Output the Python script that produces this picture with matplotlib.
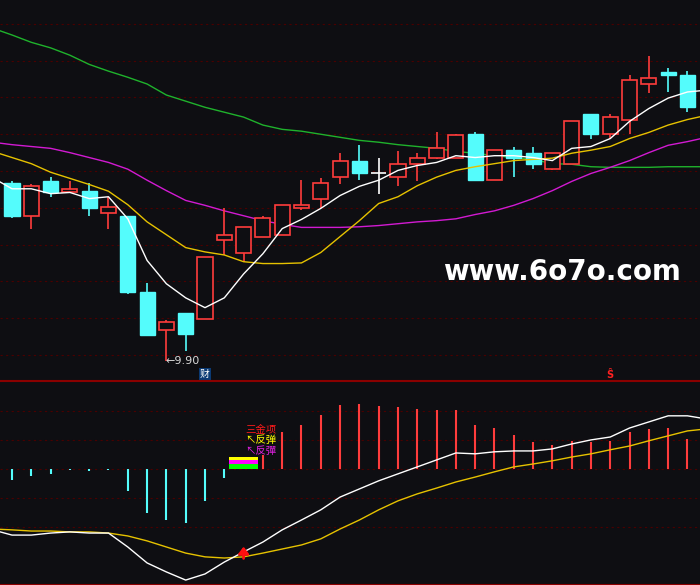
import matplotlib.pyplot as plt
from matplotlib.patches import Rectangle
import numpy as np

plt.rcParams['font.family'] = ['Noto Sans CJK SC', 'DejaVu Sans']

# daily candles (oldest -> newest)
opens = [12.81, 12.26, 12.83, 12.65, 12.68, 12.31, 12.26, 11.03, 10.41, 10.69,
         10.59, 11.88, 11.67, 11.93, 11.96, 12.40, 12.55, 12.91, 13.17, 12.96,
         12.91, 13.12, 13.21, 13.21, 13.61, 12.86, 13.34, 13.30, 13.04, 13.11,
         13.93, 13.61, 13.83, 14.42, 14.61, 14.56]
highs = [12.83, 12.78, 12.90, 12.83, 12.81, 12.58, 12.26, 11.18, 10.57, 10.69,
         11.59, 12.39, 12.09, 12.26, 12.44, 12.85, 12.88, 13.29, 13.42, 13.21,
         13.32, 13.29, 13.63, 13.61, 13.63, 13.34, 13.39, 13.39, 13.30, 13.81,
         13.93, 13.93, 14.56, 14.87, 14.68, 14.63]
lows = [12.24, 12.06, 12.57, 12.65, 12.26, 12.06, 11.00, 10.33, 9.90, 10.06,
        10.59, 11.63, 11.52, 11.93, 11.96, 12.37, 12.39, 12.78, 12.86, 12.62,
        12.75, 12.83, 13.19, 13.21, 12.85, 12.86, 12.90, 13.03, 13.01, 13.11,
        13.52, 13.52, 13.61, 14.27, 14.29, 13.96]
closes = [12.27, 12.76, 12.65, 12.70, 12.40, 12.42, 11.03, 10.33, 10.54, 10.34,
          11.59, 11.95, 12.09, 12.24, 12.44, 12.45, 12.81, 13.17, 12.96, 12.96,
          13.12, 13.22, 13.37, 13.58, 12.86, 13.34, 13.22, 13.11, 13.30, 13.81,
          13.61, 13.88, 14.48, 14.51, 14.56, 14.04]

# moving averages, one value before and one after the visible candles
ma5 = [12.89, 12.71, 12.71, 12.63, 12.65, 12.55, 12.58, 12.22, 11.54, 11.16, 10.93,
       10.77, 10.93, 11.32, 11.65, 12.06, 12.21, 12.39, 12.60, 12.75, 12.85,
       13.01, 13.09, 13.14, 13.25, 13.22, 13.25, 13.25, 13.22, 13.17, 13.37,
       13.40, 13.53, 13.81, 14.02, 14.19, 14.29, 14.32]
ma10 = [13.32, 13.22, 13.12, 12.98, 12.88, 12.78, 12.67, 12.45, 12.17, 11.96, 11.75,
        11.68, 11.63, 11.52, 11.49, 11.49, 11.50, 11.67, 11.93, 12.19, 12.47,
        12.58, 12.76, 12.90, 13.01, 13.07, 13.12, 13.17, 13.19, 13.21, 13.29,
        13.34, 13.40, 13.53, 13.63, 13.75, 13.84, 13.91]
ma30 = [13.47, 13.43, 13.40, 13.37, 13.30, 13.22, 13.14, 13.03, 12.85, 12.68, 12.52,
        12.44, 12.35, 12.27, 12.19, 12.13, 12.08, 12.08, 12.08, 12.09, 12.11,
        12.14, 12.17, 12.19, 12.22, 12.29, 12.35, 12.44, 12.55, 12.68, 12.83,
        12.96, 13.06, 13.17, 13.30, 13.42, 13.48, 13.55]
ma60 = [15.33, 15.22, 15.10, 15.01, 14.89, 14.74, 14.63, 14.53, 14.42, 14.24, 14.14,
        14.04, 13.96, 13.88, 13.75, 13.68, 13.65, 13.60, 13.55, 13.50, 13.47,
        13.43, 13.40, 13.37, 13.32, 13.29, 13.25, 13.22, 13.19, 13.12, 13.11,
        13.07, 13.06, 13.06, 13.06, 13.07, 13.07, 13.07]

# MACD
macd_hist = [-0.038, -0.024, -0.017, -0.003, -0.007, -0.003, -0.076, -0.152, -0.176,
             -0.186, -0.110, -0.031, 0.024, 0.048, 0.128, 0.152, 0.186, 0.221,
             0.224, 0.217, 0.214, 0.207, 0.203, 0.203, 0.152, 0.141, 0.117, 0.093,
             0.083, 0.097, 0.093, 0.097, 0.128, 0.138, 0.141, 0.103]
dif = [-0.210, -0.228, -0.228, -0.221, -0.217, -0.221, -0.221, -0.269, -0.324, -0.355,
       -0.383, -0.362, -0.321, -0.286, -0.252, -0.210, -0.176, -0.141, -0.097,
       -0.069, -0.041, -0.017, 0.007, 0.031, 0.055, 0.052, 0.059, 0.062, 0.062,
       0.069, 0.086, 0.100, 0.110, 0.141, 0.162, 0.183, 0.183, 0.172]
dea = [-0.207, -0.210, -0.214, -0.214, -0.217, -0.217, -0.221, -0.231, -0.248, -0.269,
       -0.290, -0.303, -0.307, -0.303, -0.290, -0.276, -0.262, -0.241, -0.207,
       -0.176, -0.141, -0.110, -0.086, -0.066, -0.045, -0.028, -0.010, 0.007,
       0.017, 0.028, 0.041, 0.052, 0.066, 0.079, 0.097, 0.114, 0.131, 0.138]

# signal block (green / magenta / yellow stacked) on the golden-cross day
signal_day = 12
signal_heights = [0.017, 0.014, 0.010]
signal_colors = ['#00ff00', '#ff00ff', '#ffff00']
signal_texts = ['三金项', '↖反弹', '↖反彈']
signal_text_colors = ['#ff1a1a', '#ffff00', '#e020e0']

BG = '#0e0e12'
RED = '#ff3c3c'
CYAN = '#54fcfc'
GRID = '#4a0000'
FRAME = '#8a0000'

n = len(closes)
x = np.arange(n)
x_ma = np.arange(-1, n + 1)
xlim = (-0.622, 35.65)

fig = plt.figure(figsize=(7, 5.85), dpi=100, facecolor=BG)
ax = fig.add_axes([0, 1 - 381 / 585, 1, 381 / 585])
ax2 = fig.add_axes([0, 0, 1, 204 / 585])

for a in (ax, ax2):
    a.set_facecolor(BG)
    a.set_xlim(*xlim)
    a.set_xticks([])
    a.tick_params(left=False, labelleft=False)
    for s in a.spines.values():
        s.set_visible(False)

# ---- price panel ----
ax.set_ylim(9.573, 15.791)
for lvl in np.arange(10.0, 15.5, 0.6):
    ax.axhline(lvl, color=GRID, lw=0.8, ls=(0, (2, 3)), zorder=0)

ax.plot(x_ma, ma60, color='#1fb22c', lw=1.0, zorder=2)
ax.plot(x_ma, ma30, color='#d21ad2', lw=1.0, zorder=2)

w = 0.39
for i in range(n):
    o, h, l, c = opens[i], highs[i], lows[i], closes[i]
    if c > o:
        ax.vlines(i, c, h, color=RED, lw=1.2, zorder=3)
        ax.vlines(i, l, o, color=RED, lw=1.2, zorder=3)
        ax.add_patch(Rectangle((i - w, o), 2 * w, c - o, facecolor=BG,
                               edgecolor=RED, lw=1.2, zorder=3))
    elif c < o:
        ax.vlines(i, l, h, color=CYAN, lw=1.2, zorder=3)
        ax.add_patch(Rectangle((i - w, c), 2 * w, o - c, facecolor=CYAN,
                               edgecolor=CYAN, lw=1, zorder=3))
    else:
        ax.vlines(i, l, h, color='white', lw=1.2, zorder=3)
        ax.hlines(o, i - w, i + w, color='white', lw=1.2, zorder=3)

ax.plot(x_ma, ma10, color='#e6c200', lw=1.0, zorder=4)
ax.plot(x_ma, ma5, color='white', lw=1.0, zorder=4)

low_i = int(np.argmin(lows))
ax.text(low_i - 0.05, lows[low_i], '\u2190' + f'{lows[low_i]:.2f}', color='#d8d8d8',
        fontsize=8, ha='left', va='center', family=['DejaVu Sans'], zorder=5)
ax.text(10, 0.018, '财', transform=ax.get_xaxis_transform(), color='white',
        fontsize=7, ha='center', va='center', zorder=5,
        bbox=dict(boxstyle='square,pad=0.12', fc='#0b3a74', ec='none'))
ax.text(31, 0.016, 'Ŝ', transform=ax.get_xaxis_transform(), color='#ff2020',
        fontsize=7, ha='center', va='center', fontweight='bold',
        family=['DejaVu Sans'], zorder=5)

ax.text(0.803, 0.286, 'www.6o7o.com', transform=ax.transAxes, color='white',
        fontsize=20, fontweight='bold', ha='center', va='center',
        family=['DejaVu Sans'], zorder=6)

# ---- MACD panel ----
ax2.set_ylim(-0.40, 0.303)
for lvl in (-0.2, -0.1, 0.0, 0.1, 0.2):
    ax2.axhline(lvl, color=GRID, lw=0.8, ls=(0, (2, 3)), zorder=0)
for side in ('top', 'bottom'):
    ax2.spines[side].set_visible(True)
    ax2.spines[side].set_color(FRAME)
    ax2.spines[side].set_linewidth(1.5)

hist_colors = [RED if v > 0 else CYAN for v in macd_hist]
ax2.vlines(x, 0, macd_hist, colors=hist_colors, lw=1.5, zorder=2)

bottom = 0
for hgt, col in zip(signal_heights, signal_colors):
    ax2.bar(signal_day, hgt, bottom=bottom, width=1.5, color=col, zorder=3)
    bottom += hgt

ax2.plot(x_ma, dea, color='#e6c200', lw=1.0, zorder=4)
ax2.plot(x_ma, dif, color='white', lw=1.0, zorder=4)

ax2.annotate('', xy=(signal_day, dea[signal_day + 1] + 0.045),
             xytext=(signal_day, dea[signal_day + 1] - 0.015),
             arrowprops=dict(arrowstyle='-|>,head_width=0.3,head_length=0.4',
                             color='#ff1010', lw=2), zorder=5)

for k, (txt, col) in enumerate(zip(signal_texts, signal_text_colors)):
    ax2.text(signal_day + 0.07, 0.135 - 0.036 * k, txt, color=col, fontsize=7.5,
             ha='left', va='center', zorder=6)

fig.savefig('out.png', dpi=100, facecolor=BG)
